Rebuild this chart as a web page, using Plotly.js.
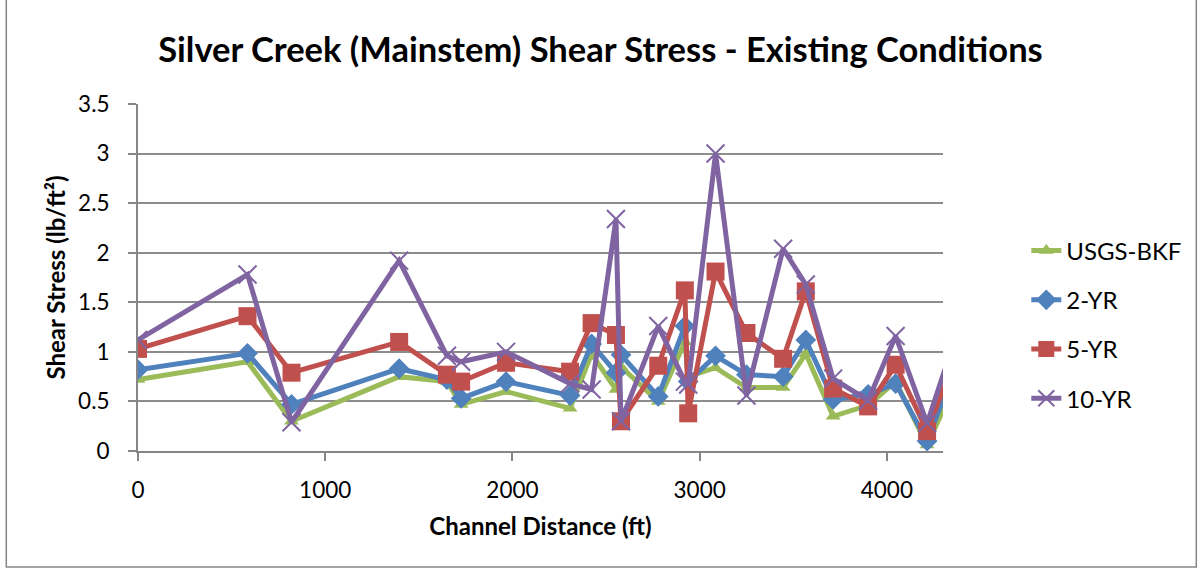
<!DOCTYPE html>
<html>
<head>
<meta charset="utf-8">
<script src="https://cdn.plot.ly/plotly-3.0.1.min.js"></script>
<style>
  html, body { margin: 0; padding: 0; background: #ffffff; }
  #chart { width: 1201px; height: 571px; }
</style>
</head>
<body>
<div id="chart"></div>
<script>
// Channel distance (ft) of each cross-section
const distance = [0, 585, 820, 1395, 1650, 1726, 1966, 2308, 2423, 2553, 2580, 2779, 2921, 2939, 3085, 3250, 3446, 3567, 3713, 3900, 4047, 4215, 4350];
// Shear stress (lb/ft^2) per flow event
const usgsBkf = [0.72, 0.90, 0.30, 0.75, 0.70, 0.47, 0.60, 0.43, 0.98, 0.62, 0.85, 0.50, 1.10, 0.75, 0.84, 0.64, 0.64, 0.98, 0.35, 0.46, 0.70, 0.06, 0.62];
const yr2     = [0.82, 0.985, 0.47, 0.83, 0.72, 0.53, 0.70, 0.56, 1.08, 0.79, 0.97, 0.55, 1.26, 0.70, 0.96, 0.77, 0.75, 1.12, 0.52, 0.57, 0.68, 0.10, 0.76];
const yr5     = [1.03, 1.36, 0.79, 1.10, 0.77, 0.70, 0.89, 0.80, 1.29, 1.17, 0.30, 0.86, 1.62, 0.38, 1.81, 1.19, 0.93, 1.61, 0.63, 0.45, 0.87, 0.20, 0.86];
const yr10    = [1.12, 1.78, 0.29, 1.92, 0.96, 0.90, 1.00, 0.68, 0.62, 2.34, 0.30, 1.26, 0.70, 0.67, 3.00, 0.56, 2.04, 1.68, 0.73, 0.51, 1.16, 0.28, 1.05];

const seriesNames = ['USGS-BKF', '2-YR', '5-YR', '10-YR'];
const xTicks = [0, 1000, 2000, 3000, 4000];
const yTicks = [0, 0.5, 1, 1.5, 2, 2.5, 3, 3.5];

const green = '#9BBB59', blue = '#4F81BD', red = '#C0504D', purple = '#8064A2';
const font = 'Lato, "Open Sans", sans-serif';

function trace(name, y, color, marker, group) {
  return {
    type: 'scatter', mode: 'lines+markers', name: name, x: distance, y: y,
    legendgroup: group,
    line: { color: color, width: 5 },
    marker: marker
  };
}

const data = [
  trace(seriesNames[0], usgsBkf, green, { symbol: 'triangle-up', size: 13, color: green }, 'g1'),
  trace(seriesNames[1], yr2, blue, { symbol: 'diamond', size: 16, color: blue }, 'g2'),
  trace(seriesNames[2], yr5, red, { symbol: 'square', size: 18, color: red }, 'g3'),
  trace(seriesNames[3], yr10, purple, { symbol: 'x-thin', size: 18, color: purple, line: { color: purple, width: 2 } }, 'g4')
];

const L = 137.7, R = 942.7, T = 104, B = 451, W = 1201, H = 571;
const pw = R - L, ph = B - T;

const layout = {
  width: W, height: H,
  margin: { l: L, r: W - R, t: T, b: H - B, pad: 0 },
  paper_bgcolor: '#ffffff', plot_bgcolor: '#ffffff',
  showlegend: true,
  title: {
    text: 'Silver Creek (Mainstem) Shear Stress - Existing Conditions',
    font: { family: font, size: 34.5, weight: 'bold', color: '#000000' },
    xref: 'container', x: 0.5, xanchor: 'center',
    yref: 'container', y: 1 - 50 / H, yanchor: 'middle'
  },
  xaxis: {
    range: [0, 4300], tickvals: xTicks, ticktext: xTicks.map(String),
    showgrid: false, zeroline: false,
    showline: true, linecolor: '#868686', linewidth: 2,
    ticks: 'outside', ticklen: 8, tickwidth: 2, tickcolor: '#868686',
    ticklabelstandoff: 10,
    tickfont: { family: font, size: 22.5, color: '#000000' },
    title: { text: 'Channel Distance (ft)', font: { family: font, size: 24, weight: 'bold', color: '#000000' }, standoff: 16 }
  },
  yaxis: {
    range: [0, 3.5], tickvals: yTicks, ticktext: yTicks.map(String),
    showgrid: true, gridcolor: '#8c8c8c', gridwidth: 2, zeroline: false,
    showline: true, linecolor: '#868686', linewidth: 2,
    ticks: 'outside', ticklen: 8, tickwidth: 2, tickcolor: '#868686',
    ticklabelstandoff: 14,
    tickfont: { family: font, size: 22.5, color: '#000000' },
    title: { text: 'Shear Stress (lb/ft²)', font: { family: font, size: 24, weight: 'bold', color: '#000000' }, standoff: 6 }
  },
  legend: {
    x: (1026 - L) / pw, xanchor: 'left',
    y: (B - 324.5) / ph, yanchor: 'middle',
    traceorder: 'grouped', tracegroupgap: 15,
    font: { family: font, size: 24, color: '#000000' },
    bgcolor: 'rgba(0,0,0,0)'
  },
  shapes: [{
    type: 'rect', xref: 'paper', yref: 'paper',
    x0: (6 - L) / pw, x1: (1196 - L) / pw,
    y0: (B - 567) / ph, y1: (B + 1) / ph,
    line: { color: '#868686', width: 1.5 }, fillcolor: 'rgba(0,0,0,0)', layer: 'below'
  }]
};

Plotly.newPlot('chart', data, layout, { staticPlot: true, displayModeBar: false });
</script>
</body>
</html>
